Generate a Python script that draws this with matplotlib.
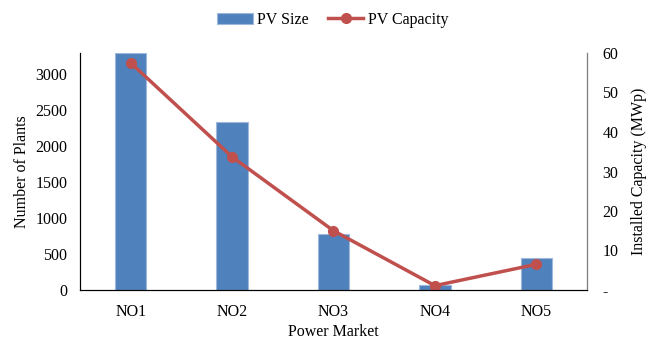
import matplotlib.pyplot as plt
import numpy as np

markets = ['NO1', 'NO2', 'NO3', 'NO4', 'NO5']
pv_size = [3290, 2340, 780, 70, 440]
pv_capacity = [57.5, 33.7, 15.0, 1.1, 6.5]

plt.rcParams['font.family'] = 'Liberation Serif'
plt.rcParams['font.size'] = 11.5

fig = plt.figure(figsize=(6.57, 3.39), dpi=100)
ax = fig.add_axes([80 / 657, 1 - 290 / 339, 507 / 657, 237 / 339])
ax2 = ax.twinx()

x = np.arange(len(markets))
bars = ax.bar(x, pv_size, width=0.31, color='#4F81BD', edgecolor='#9DB8DC',
              linewidth=0.8, label='PV Size')
line, = ax2.plot(x, pv_capacity, color='#C0504D', lw=2.5, marker='o', ms=7,
                 label='PV Capacity')

ax.set_xlim(-0.5, 4.5)
ax.set_ylim(0, 3292)
ax.set_yticks(range(0, 3001, 500))
ax.set_xticks(x)
ax.set_xticklabels(markets)
ax2.set_ylim(0, 60)
ax2.set_yticks(range(0, 61, 10))
ax2.set_yticklabels(['-'] + [str(v) for v in range(10, 61, 10)])

for a in (ax, ax2):
    a.spines['top'].set_visible(False)
    a.tick_params(length=0)
ax.tick_params(axis='y', pad=9)
ax.tick_params(axis='x', pad=10)
ax2.tick_params(axis='y', pad=11)
ax2.spines['right'].set_color('#808080')

ax.set_ylabel('Number of Plants')
ax.set_xlabel('Power Market', labelpad=3)
ax2.set_ylabel('Installed Capacity (MWp)', labelpad=9)

fig.legend([bars, line], ['PV Size', 'PV Capacity'], loc='center',
           bbox_to_anchor=(333 / 657, 1 - 20 / 339), ncol=2, frameon=False,
           handlelength=2.2, columnspacing=1.2, handletextpad=0.3)

fig.savefig('out.png', dpi=100)
